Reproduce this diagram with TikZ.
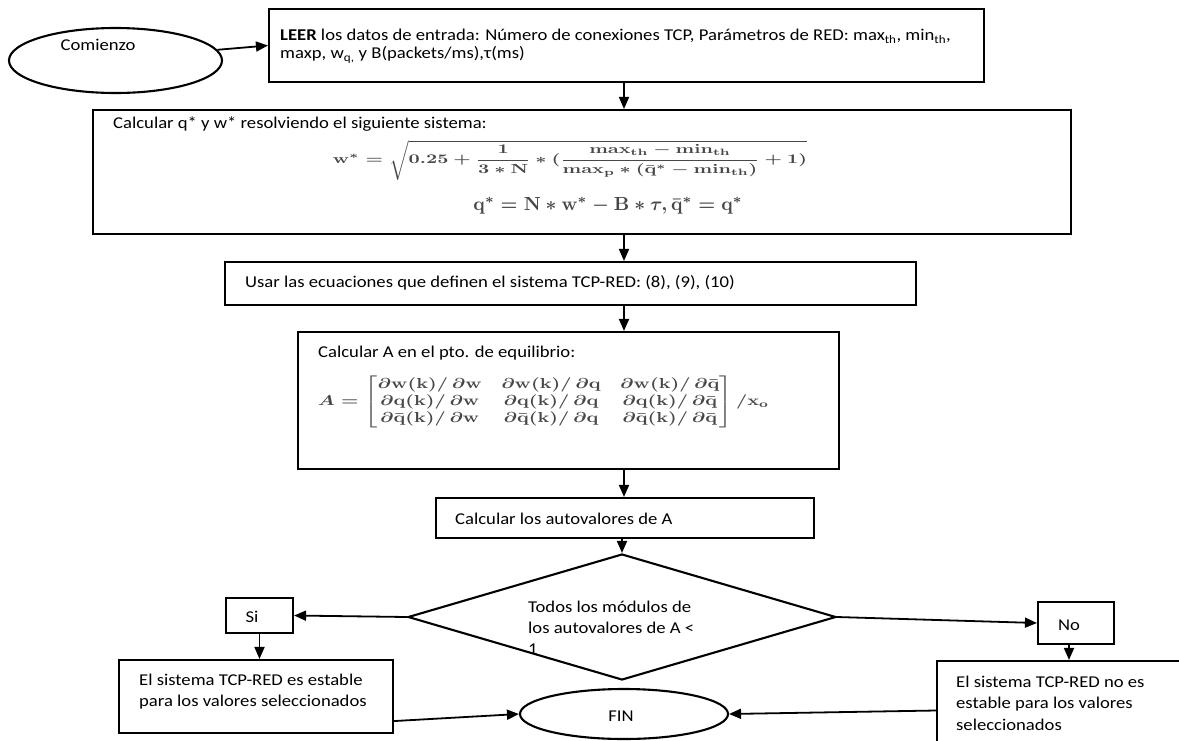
\documentclass[tikz,border=0pt]{standalone}
\usepackage{amsmath}
\usepackage{graphicx}
\usepackage{fontspec}
\setmainfont{Carlito}[FakeStretch=1.13]
\usetikzlibrary{arrows.meta,shapes.geometric}
\begin{document}
\begin{tikzpicture}[x=1pt,y=-1pt,
  box/.style={draw,line width=2.1pt,rectangle,inner sep=0pt},
  oval/.style={draw,line width=2.1pt,ellipse,inner sep=0pt},
  arr/.style={line width=1.8pt,-{Triangle[length=12pt,width=10pt]}},
  txt/.style={anchor=west,inner sep=0pt,align=left,font=\fontsize{16.5}{18}\selectfont},
  ctxt/.style={inner sep=0pt,font=\fontsize{16.5}{18}\selectfont},
  frm/.style={inner sep=0pt,text=black!72}]
\useasboundingbox (0,0) rectangle (1179,740);
\clip (0,0) rectangle (1179,740);
\coordinate (ax) at (624,0);
% shapes
\node[oval,minimum width=213pt,minimum height=65pt] (com) at (115.5,60.5) {};
\node[ctxt] (comt) at (98,45) {Comienzo};
\node[box,minimum width=715pt,minimum height=73pt] (leer) at (626.5,45.5) {};
\node[box,minimum width=978pt,minimum height=124pt] (sys) at (582,172) {};
\node[box,minimum width=691pt,minimum height=43pt] (ecu) at (570.5,283.5) {};
\node[box,minimum width=541pt,minimum height=137pt] (calA) at (568.5,400.5) {};
\node[box,minimum width=378pt,minimum height=40pt] (auto) at (625,518) {};
\node[draw,line width=2.1pt,diamond,inner sep=0pt,minimum width=428pt,minimum height=126pt] (dia) at (622,617) {};
\node[box,minimum width=67pt,minimum height=35pt] (si) at (259.5,615.5) {};
\node[box,minimum width=76pt,minimum height=42pt] (no) at (1076,623) {};
\node[box,minimum width=274pt,minimum height=73pt] (est) at (256,696.5) {};
\node[box,minimum width=253pt,minimum height=99pt] (noest) at (1063.5,710.5) {};
\node[oval,minimum width=208pt,minimum height=50pt] (fin) at (624,714) {};
% texts
\node[txt] (leert) at (280,46) {\textbf{LEER} los datos de entrada: Número de conexiones TCP, Parámetros de RED: max\textsubscript{th}, min\textsubscript{th},\\maxp, w\textsubscript{q,} y B(packets/ms),τ(ms)};
\node[txt] (syst) at (113,124) {Calcular q* y w* resolviendo el siguiente sistema:};
\node[frm] (wf) at (570,160) {\resizebox*{474pt}{40pt}{\boldmath$\mathbf{w}^{*} = \sqrt{0.25 + \dfrac{\mathbf{1}}{\mathbf{3}\ast\mathbf{N}}\ast(\dfrac{\mathbf{max_{th}}-\mathbf{min_{th}}}{\mathbf{max_{p}}\ast(\bar{\mathbf{q}}^{*}-\mathbf{min_{th}})}+\mathbf{1})}$}};
\node[frm] (qf) at (608,206) {\resizebox{269pt}{!}{\boldmath$\mathbf{q}^{*} = \mathbf{N}\ast\mathbf{w}^{*}-\mathbf{B}\ast\tau,\bar{\mathbf{q}}^{*} = \mathbf{q}^{*}$}};
\node[txt] (ecut) at (245,283) {Usar las ecuaciones que definen el sistema TCP-RED: (8), (9), (10)};
\node[txt] (calAt) at (318,353) {Calcular A en el pto. de equilibrio:};
\node[frm] (mat) at (543.5,402) {\resizebox*{451pt}{52pt}{\boldmath$A=\begin{bmatrix}\partial\mathbf{w(k)}/\,\partial\mathbf{w} & \partial\mathbf{w(k)}/\,\partial\mathbf{q} & \partial\mathbf{w(k)}/\,\partial\bar{\mathbf{q}}\\ \partial\mathbf{q(k)}/\,\partial\mathbf{w} & \partial\mathbf{q(k)}/\,\partial\mathbf{q} & \partial\mathbf{q(k)}/\,\partial\bar{\mathbf{q}}\\ \partial\bar{\mathbf{q}}\mathbf{(k)}/\,\partial\mathbf{w} & \partial\bar{\mathbf{q}}\mathbf{(k)}/\,\partial\mathbf{q} & \partial\bar{\mathbf{q}}\mathbf{(k)}/\,\partial\bar{\mathbf{q}}\end{bmatrix}/\mathbf{x_{o}}$}};
\node[txt] (autot) at (455,519) {Calcular los autovalores de A};
\node[txt,font=\fontsize{16.5}{21}\selectfont] (diat) at (528,628) {Todos los módulos de\\los autovalores de A <\\1};
\node[ctxt] (sit) at (252,617) {Si};
\node[ctxt] (not) at (1069,625) {No};
\node[txt,font=\fontsize{16.5}{21}\selectfont] (estt) at (139,692) {El sistema TCP-RED es estable\\para los valores seleccionados};
\node[txt,font=\fontsize{16.5}{21.5}\selectfont] (noestt) at (956,703) {El sistema TCP-RED no es\\estable para los valores\\seleccionados};
\node[ctxt] (fint) at (621,716) {FIN};
% connectors
\draw[arr] (com.6) -- (leer.west);
\draw[arr] (leer.south -| ax) -- (sys.north -| ax);
\draw[arr] (sys.south -| ax) -- (ecu.north -| ax);
\draw[arr] (ecu.south -| ax) -- (calA.north -| ax);
\draw[arr] (calA.south -| ax) -- (auto.north -| ax);
\draw[arr] (auto.south -| dia.north) -- (dia.north);
\draw[arr] (dia.west) -- (si.east);
\draw[arr] (si.south) -- (est.north -| si.south);
\draw[arr] ([yshift=13pt]est.south east) -- (fin.west);
\draw[arr] (dia.east) -- (no.west);
\draw[arr] ([xshift=-7pt]no.south) -- ([xshift=-7pt]noest.north -| no.south);
\draw[arr] (noest.west) -- (fin.east);
\end{tikzpicture}
\end{document}
